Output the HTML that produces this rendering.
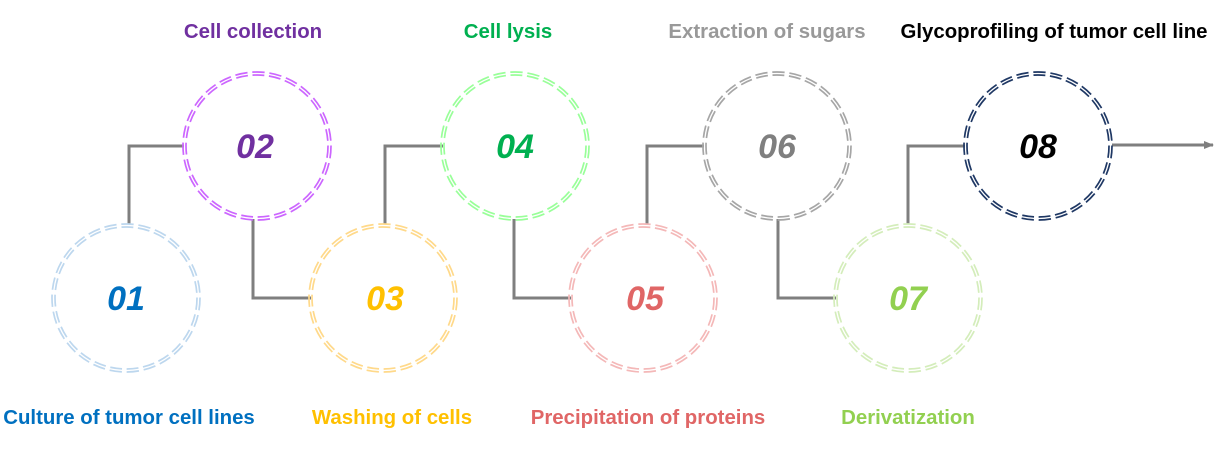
<!DOCTYPE html>
<html><head><meta charset="utf-8"><style>
html,body{margin:0;padding:0;background:#fff;}
svg{display:block;}
text{font-family:"Liberation Sans",Arial,sans-serif;font-weight:bold;}
.n{font-size:34px;font-style:italic;text-anchor:middle;}
.l{font-size:20.4px;text-anchor:middle;}
</style></head><body>
<svg width="1221" height="456" viewBox="0 0 1221 456" xmlns="http://www.w3.org/2000/svg">
<defs><marker id="a" markerWidth="10" markerHeight="10" refX="9" refY="5" orient="auto" markerUnits="userSpaceOnUse"><path d="M0,1 L10,5 L0,9 z" fill="#7f7f7f"/></marker></defs>
<g fill="none" stroke="#7f7f7f" stroke-width="3">
<polyline points="129,224 129,146 184,146"/>
<polyline points="253,219 253,298 311,298"/>
<polyline points="385,224 385,146 443,146"/>
<polyline points="514,219 514,298 571,298"/>
<polyline points="647,224 647,146 704,146"/>
<polyline points="778,219 778,298 836,298"/>
<polyline points="908,224 908,146 965,146"/>
<line x1="1112" y1="145" x2="1213" y2="145" marker-end="url(#a)"/>
</g>
<g fill="none" stroke-width="1.7" stroke-dasharray="0.72 0.28">
<g stroke="#bdd7ee"><circle cx="126" cy="298" r="74" pathLength="27"/><circle cx="126" cy="298" r="71" pathLength="27"/></g>
<g stroke="#cc66ff"><circle cx="257" cy="146" r="74" pathLength="27"/><circle cx="257" cy="146" r="71" pathLength="27"/></g>
<g stroke="#ffd98a"><circle cx="383" cy="298" r="74" pathLength="27"/><circle cx="383" cy="298" r="71" pathLength="27"/></g>
<g stroke="#99ff99"><circle cx="515" cy="146" r="74" pathLength="27"/><circle cx="515" cy="146" r="71" pathLength="27"/></g>
<g stroke="#f4b8b8"><circle cx="643" cy="298" r="74" pathLength="27"/><circle cx="643" cy="298" r="71" pathLength="27"/></g>
<g stroke="#a6a6a6"><circle cx="777" cy="146" r="74" pathLength="27"/><circle cx="777" cy="146" r="71" pathLength="27"/></g>
<g stroke="#d4edbb"><circle cx="908" cy="298" r="74" pathLength="27"/><circle cx="908" cy="298" r="71" pathLength="27"/></g>
<g stroke="#1f3864"><circle cx="1038" cy="146" r="74" pathLength="27"/><circle cx="1038" cy="146" r="71" pathLength="27"/></g>
</g>
<text class="n" x="126" y="310" fill="#0070c0">01</text>
<text class="n" x="255" y="158" fill="#7030a0">02</text>
<text class="n" x="385" y="310" fill="#ffc000">03</text>
<text class="n" x="515" y="158" fill="#00b050">04</text>
<text class="n" x="645" y="310" fill="#e06666">05</text>
<text class="n" x="777" y="158" fill="#7f7f7f">06</text>
<text class="n" x="908" y="310" fill="#92d050">07</text>
<text class="n" x="1038" y="158" fill="#000">08</text>
<text class="l" x="253" y="38" fill="#7030a0">Cell collection</text>
<text class="l" x="508" y="38" fill="#00b050">Cell lysis</text>
<text class="l" x="767" y="38" fill="#999">Extraction of sugars</text>
<text class="l" x="1054" y="38" fill="#000">Glycoprofiling of tumor cell line</text>
<text class="l" x="129" y="424" fill="#0070c0">Culture of tumor cell lines</text>
<text class="l" x="392" y="424" fill="#ffc000">Washing of cells</text>
<text class="l" x="648" y="424" fill="#e06666">Precipitation of proteins</text>
<text class="l" x="908" y="424" fill="#92d050">Derivatization</text>
</svg>
</body></html>
